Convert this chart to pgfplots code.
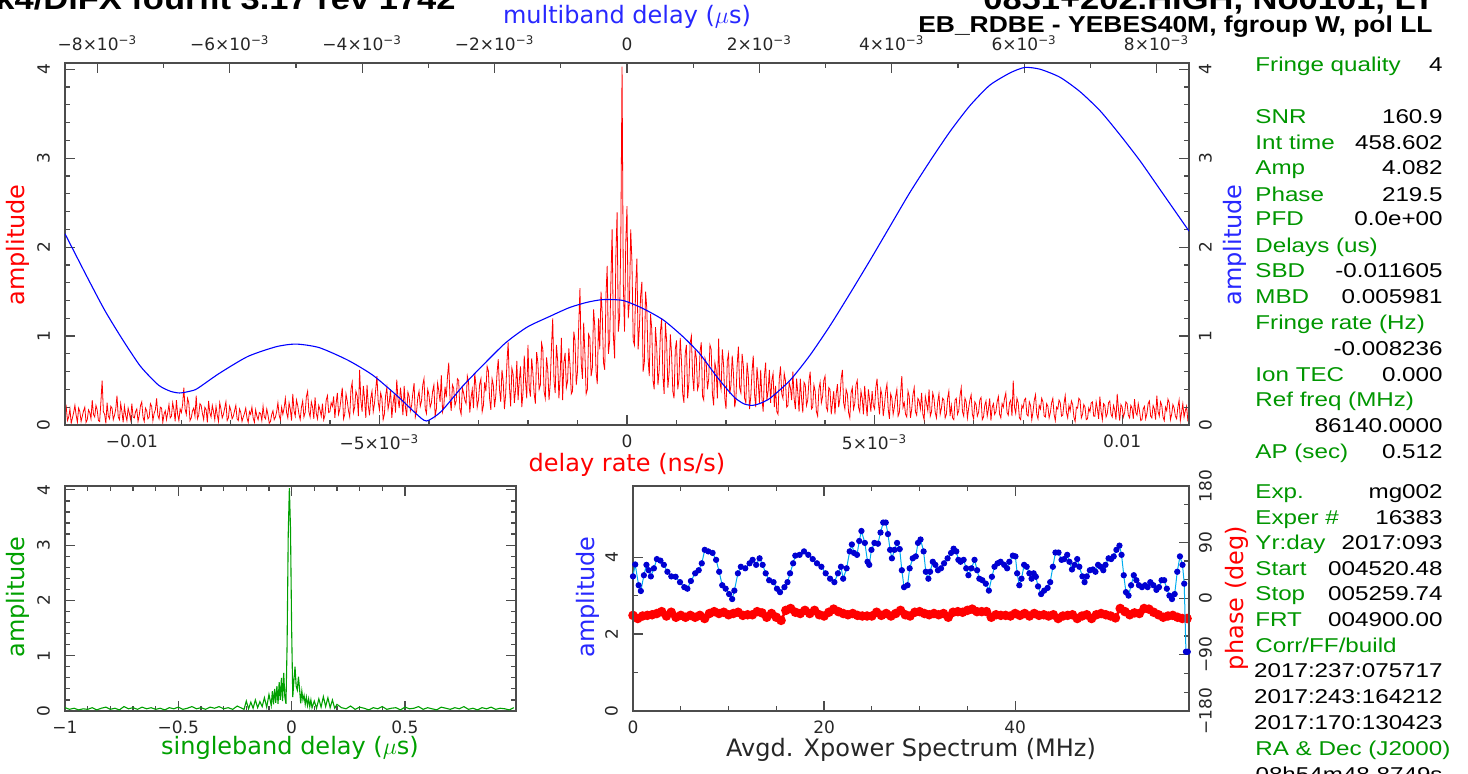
\documentclass[border=0pt]{standalone}
\usepackage{fontspec}
\usepackage{pgfplots}
\pgfplotsset{compat=1.18}
\setmainfont{DejaVu Sans}
\newfontfamily\hf{DejaVu Sans}
\newfontfamily\panelfont{Liberation Sans}[FakeStretch=1.21]
\newfontfamily\titlefont{Liberation Sans}[FakeStretch=1.15]
\definecolor{fgreen}{RGB}{0,150,0}
\definecolor{sgreen}{RGB}{0,160,0}
\definecolor{dblue}{RGB}{0,0,210}
\definecolor{lblue}{RGB}{40,40,255}
\newcommand{\pf}{\panelfont\fontsize{10}{12}\selectfont}
\newcommand{\lf}{\hf\fontsize{12}{14}\selectfont}
\newcommand{\pl}[3]{%
  \node[anchor=base west, text=fgreen, inner sep=0pt, font=\pf] at (627.5pt,#1pt) {#2};%
  \node[anchor=base east, inner sep=0pt, font=\pf] at (721.5pt,#1pt) {#3};}
\pgfplotsset{
  pg/.style={scale only axis, anchor=south west,
    axis line style={black!70, line width=0.6pt},
    every tick/.style={black!70, line width=0.6pt},
    major tick length=5pt, minor tick length=2.5pt, tick align=inside,
    /pgf/number format/assume math mode=true,
    every tick label/.append style={font=\hf\fontsize{8.5}{10}\selectfont, text=black!85},
    clip=true}
}
\begin{document}
\begin{tikzpicture}

% ---------------- top plot: delay rate (red) ----------------
\begin{axis}[pg, at={(32.5pt,174pt)}, width=562pt, height=181pt,
  xmin=-11.35, xmax=11.35, ymin=0, ymax=4.07,
  xtick={-10,-5,0,5,10},
  xticklabels={−0.01, −5×10\textsuperscript{−3}, 0, 5×10\textsuperscript{−3}, 0.01},
  minor x tick num=4, xtick pos=left, xticklabel pos=left,
  ytick={0,1,2,3,4}, yticklabels={0,1,2,3,4}, minor y tick num=4,
  ytick pos=left, yticklabel pos=left,
  xticklabel style={yshift=-1.5pt},
  yticklabel style={xshift=-4pt, rotate=90, anchor=south}]
\addplot[red, line width=0.4pt] coordinates {
(-11.35,0.12)(-11.325,0.20)(-11.30,0.05)(-11.275,0.09)(-11.25,0.18)(-11.225,0.02)(-11.20,0.08)(-11.175,0.14)(-11.15,0.22)(-11.125,0.11)(-11.10,0.03)(-11.075,0.19)(-11.05,0.15)(-11.025,0.04)(-11.00,0.10)(-10.975,0.16)
(-10.95,0.20)(-10.925,0.03)(-10.90,0.06)(-10.875,0.17)(-10.85,0.14)(-10.825,0.07)(-10.80,0.28)(-10.775,0.12)(-10.75,0.09)(-10.725,0.22)(-10.70,0.17)(-10.675,0.05)(-10.65,0.04)(-10.625,0.26)(-10.60,0.50)(-10.575,0.15)(-10.55,0.12)(-10.525,0.02)(-10.50,0.25)(-10.475,0.10)(-10.45,0.07)(-10.425,0.21)(-10.40,0.19)(-10.375,0.06)(-10.35,0.11)(-10.325,0.18)(-10.30,0.33)(-10.275,0.09)(-10.25,0.06)(-10.225,0.24)(-10.20,0.15)(-10.175,0.03)(-10.15,0.21)(-10.125,0.11)(-10.10,0.05)(-10.075,0.19)(-10.05,0.13)(-10.025,0.06)(-10.00,0.24)(-9.975,0.09)
(-9.95,0.08)(-9.925,0.15)(-9.90,0.18)(-9.875,0.04)(-9.85,0.11)(-9.825,0.22)(-9.80,0.26)(-9.775,0.09)(-9.75,0.04)(-9.725,0.19)(-9.70,0.16)(-9.675,0.07)(-9.65,0.09)(-9.625,0.24)(-9.60,0.21)(-9.575,0.05)(-9.55,0.13)(-9.525,0.17)(-9.50,0.30)(-9.475,0.11)(-9.45,0.07)(-9.425,0.20)(-9.40,0.19)(-9.375,0.03)(-9.35,0.12)(-9.325,0.16)(-9.30,0.06)(-9.275,0.14)(-9.25,0.23)(-9.225,0.08)(-9.20,0.10)(-9.175,0.25)(-9.15,0.17)(-9.125,0.04)(-9.10,0.28)(-9.075,0.12)(-9.05,0.05)(-9.025,0.18)(-9.00,0.14)(-8.975,0.23)
(-8.95,0.42)(-8.925,0.18)(-8.90,0.12)(-8.875,0.30)(-8.85,0.25)(-8.825,0.05)(-8.80,0.08)(-8.775,0.16)(-8.75,0.19)(-8.725,0.10)(-8.70,0.33)(-8.675,0.07)(-8.65,0.11)(-8.625,0.24)(-8.60,0.22)(-8.575,0.13)(-8.55,0.06)(-8.525,0.20)(-8.50,0.17)(-8.475,0.03)(-8.45,0.27)(-8.425,0.14)(-8.40,0.09)(-8.375,0.22)(-8.35,0.15)(-8.325,0.06)(-8.30,0.21)(-8.275,0.11)(-8.25,0.04)(-8.225,0.25)(-8.20,0.18)(-8.175,0.08)(-8.15,0.12)(-8.125,0.19)(-8.10,0.26)(-8.075,0.05)(-8.05,0.08)(-8.025,0.21)(-8.00,0.16)(-7.975,0.07)
(-7.95,0.10)(-7.925,0.16)(-7.90,0.22)(-7.875,0.07)(-7.85,0.05)(-7.825,0.18)(-7.80,0.14)(-7.775,0.04)(-7.75,0.09)(-7.725,0.13)(-7.70,0.19)(-7.675,0.08)(-7.65,0.03)(-7.625,0.15)(-7.60,0.12)(-7.575,0.20)(-7.55,0.08)(-7.525,0.03)(-7.50,0.17)(-7.475,0.10)(-7.45,0.06)(-7.425,0.14)(-7.40,0.13)(-7.375,0.05)(-7.35,0.21)(-7.325,0.09)(-7.30,0.07)(-7.275,0.18)(-7.25,0.11)(-7.225,0.02)(-7.20,0.04)(-7.175,0.12)(-7.15,0.16)(-7.125,0.06)(-7.10,0.09)(-7.075,0.15)(-7.05,0.25)(-7.025,0.11)(-7.00,0.06)(-6.975,0.20)
(-6.95,0.12)(-6.925,0.19)(-6.90,0.30)(-6.875,0.14)(-6.85,0.08)(-6.825,0.25)(-6.80,0.18)(-6.775,0.05)(-6.75,0.35)(-6.725,0.16)(-6.70,0.10)(-6.675,0.28)(-6.65,0.22)(-6.625,0.12)(-6.60,0.06)(-6.575,0.20)(-6.55,0.27)(-6.525,0.09)(-6.50,0.14)(-6.475,0.32)(-6.45,0.38)(-6.425,0.15)(-6.40,0.09)(-6.375,0.26)(-6.35,0.20)(-6.325,0.07)(-6.30,0.31)(-6.275,0.13)(-6.25,0.07)(-6.225,0.22)(-6.20,0.17)(-6.175,0.10)(-6.15,0.24)(-6.125,0.06)(-6.10,0.11)(-6.075,0.28)(-6.05,0.33)(-6.025,0.14)(-6.00,0.15)(-5.975,0.25)
(-5.95,0.21)(-5.925,0.32)(-5.90,0.08)(-5.875,0.24)(-5.85,0.36)(-5.825,0.12)(-5.80,0.18)(-5.775,0.30)(-5.75,0.42)(-5.725,0.07)(-5.70,0.12)(-5.675,0.35)(-5.65,0.27)(-5.625,0.16)(-5.60,0.09)(-5.575,0.40)(-5.55,0.48)(-5.525,0.14)(-5.50,0.20)(-5.475,0.38)(-5.45,0.33)(-5.425,0.10)(-5.40,0.62)(-5.375,0.28)(-5.35,0.15)(-5.325,0.44)(-5.30,0.29)(-5.275,0.08)(-5.25,0.45)(-5.225,0.22)(-5.20,0.11)(-5.175,0.30)(-5.15,0.38)(-5.125,0.15)(-5.10,0.24)(-5.075,0.40)(-5.05,0.55)(-5.025,0.26)(-5.00,0.17)(-4.975,0.36)
(-4.95,0.30)(-4.925,0.06)(-4.90,0.12)(-4.875,0.33)(-4.85,0.42)(-4.825,0.18)(-4.80,0.26)(-4.775,0.40)(-4.75,0.08)(-4.725,0.24)(-4.70,0.35)(-4.675,0.14)(-4.65,0.51)(-4.625,0.29)(-4.60,0.19)(-4.575,0.42)(-4.55,0.28)(-4.525,0.11)(-4.50,0.44)(-4.475,0.20)(-4.45,0.10)(-4.425,0.37)(-4.40,0.32)(-4.375,0.16)(-4.35,0.22)(-4.325,0.36)(-4.30,0.47)(-4.275,0.09)(-4.25,0.15)(-4.225,0.31)(-4.20,0.38)(-4.175,0.21)(-4.15,0.27)(-4.125,0.45)(-4.10,0.52)(-4.075,0.18)(-4.05,0.13)(-4.025,0.40)(-4.00,0.34)(-3.975,0.20)
(-3.95,0.25)(-3.925,0.38)(-3.90,0.45)(-3.875,0.10)(-3.85,0.18)(-3.825,0.47)(-3.80,0.38)(-3.775,0.26)(-3.75,0.56)(-3.725,0.15)(-3.70,0.21)(-3.675,0.43)(-3.65,0.31)(-3.625,0.55)(-3.60,0.70)(-3.575,0.30)(-3.55,0.16)(-3.525,0.45)(-3.50,0.41)(-3.475,0.22)(-3.45,0.27)(-3.425,0.52)(-3.40,0.50)(-3.375,0.18)(-3.35,0.12)(-3.325,0.42)(-3.30,0.36)(-3.275,0.28)(-3.25,0.24)(-3.225,0.55)(-3.20,0.48)(-3.175,0.14)(-3.15,0.30)(-3.125,0.40)(-3.10,0.19)(-3.075,0.58)(-3.05,0.44)(-3.025,0.20)(-3.00,0.28)(-2.975,0.46)
(-2.95,0.52)(-2.925,0.15)(-2.90,0.22)(-2.875,0.48)(-2.85,0.38)(-2.825,0.66)(-2.80,0.61)(-2.775,0.30)(-2.75,0.17)(-2.725,0.52)(-2.70,0.45)(-2.675,0.20)(-2.65,0.33)(-2.625,0.58)(-2.60,0.74)(-2.575,0.40)(-2.55,0.26)(-2.525,0.62)(-2.50,0.49)(-2.475,0.18)(-2.45,0.35)(-2.425,0.70)(-2.40,0.93)(-2.375,0.44)(-2.35,0.21)(-2.325,0.64)(-2.30,0.57)(-2.275,0.25)(-2.25,0.40)(-2.225,0.72)(-2.20,0.28)(-2.175,0.50)(-2.15,0.66)(-2.125,0.20)(-2.10,0.36)(-2.075,0.78)(-2.05,0.50)(-2.025,0.30)(-2.00,0.90)(-1.975,0.42)
(-1.95,0.32)(-1.925,0.75)(-1.90,0.58)(-1.875,0.35)(-1.85,0.24)(-1.825,0.82)(-1.80,0.70)(-1.775,0.40)(-1.75,0.45)(-1.725,0.92)(-1.70,0.85)(-1.675,0.38)(-1.65,0.30)(-1.625,0.76)(-1.60,0.62)(-1.575,0.28)(-1.55,0.47)(-1.525,0.88)(-1.50,1.20)(-1.475,0.50)(-1.45,0.36)(-1.425,0.90)(-1.40,0.72)(-1.375,0.30)(-1.35,0.55)(-1.325,0.98)(-1.30,0.28)(-1.275,0.70)(-1.25,0.81)(-1.225,0.42)(-1.20,0.49)(-1.175,0.86)(-1.15,0.66)(-1.125,0.35)(-1.10,0.38)(-1.075,1.05)(-1.05,0.95)(-1.025,0.45)(-1.00,0.60)(-0.975,1.12)
(-0.95,1.54)(-0.925,0.70)(-0.90,0.52)(-0.875,1.15)(-0.85,0.80)(-0.825,0.35)(-0.80,0.40)(-0.775,1.02)(-0.75,0.98)(-0.725,0.55)(-0.70,0.64)(-0.675,1.30)(-0.65,1.10)(-0.625,0.60)(-0.60,0.46)(-0.575,1.20)
(-0.55,0.85)(-0.525,1.50)(-0.50,1.25)(-0.475,0.70)(-0.45,0.62)(-0.425,1.45)(-0.40,1.79)(-0.375,0.80)(-0.35,0.95)(-0.325,1.62)(-0.30,2.20)(-0.275,1.00)(-0.25,0.75)(-0.225,1.90)(-0.20,2.39)(-0.175,1.05)(-0.15,1.20)(-0.125,2.10)(-0.10,4.03)(-0.075,1.60)(-0.05,1.05)(-0.025,2.05)(0.00,2.46)(0.025,1.20)(0.05,1.40)(0.075,2.20)(0.10,1.83)(0.125,0.95)(0.15,0.90)(0.175,1.55)(0.20,1.87)(0.225,0.85)(0.25,1.10)(0.275,1.45)(0.30,1.61)(0.325,0.60)(0.35,0.70)(0.375,1.50)(0.40,1.31)(0.425,0.75)
(0.45,0.55)(0.475,1.25)(0.50,1.08)(0.525,0.50)(0.55,0.40)(0.575,1.10)(0.60,0.88)(0.625,0.45)(0.65,0.62)(0.675,1.05)(0.70,1.20)(0.725,0.55)(0.75,0.35)(0.775,1.15)(0.80,0.95)(0.825,0.42)(0.85,0.58)(0.875,1.02)(0.90,0.80)(0.925,0.38)(0.95,0.30)(0.975,0.85)(1.00,0.95)(1.025,0.40)(1.05,0.52)(1.075,0.98)(1.10,0.72)(1.125,0.35)(1.15,0.25)(1.175,0.80)(1.20,0.90)(1.225,0.30)(1.25,0.48)(1.275,0.92)(1.30,1.00)(1.325,0.55)(1.35,0.38)(1.375,0.85)(1.40,0.76)(1.425,0.40)
(1.45,0.45)(1.475,0.82)(1.50,0.93)(1.525,0.32)(1.55,0.28)(1.575,0.75)(1.60,0.70)(1.625,0.40)(1.65,0.52)(1.675,0.90)(1.70,0.85)(1.725,0.35)(1.75,0.22)(1.775,0.70)(1.80,0.62)(1.825,0.30)(1.85,0.97)(1.875,0.48)(1.90,0.40)(1.925,0.85)(1.95,0.68)(1.975,0.30)(2.00,0.18)(2.025,0.72)(2.05,0.80)(2.075,0.35)(2.10,0.45)(2.125,0.78)(2.15,0.58)(2.175,0.20)(2.20,0.30)(2.225,0.68)(2.25,0.88)(2.275,0.42)(2.30,0.36)(2.325,0.80)(2.35,0.66)(2.375,0.30)(2.40,0.25)(2.425,0.70)
(2.45,0.55)(2.475,0.18)(2.50,0.32)(2.525,0.60)(2.55,0.78)(2.575,0.35)(2.60,0.20)(2.625,0.65)(2.65,0.48)(2.675,0.25)(2.70,0.62)(2.725,0.30)(2.75,0.15)(2.775,0.55)(2.80,0.70)(2.825,0.28)(2.85,0.38)(2.875,0.62)(2.90,0.25)(2.925,0.50)(2.95,0.58)(2.975,0.20)(3.00,0.44)(3.025,0.15)(3.05,0.12)(3.075,0.52)(3.10,0.66)(3.125,0.35)(3.15,0.30)(3.175,0.58)(3.20,0.50)(3.225,0.20)(3.25,0.22)(3.275,0.48)(3.30,0.42)(3.325,0.28)(3.35,0.60)(3.375,0.30)(3.40,0.18)(3.425,0.52)
(3.45,0.36)(3.475,0.15)(3.50,0.52)(3.525,0.30)(3.55,0.14)(3.575,0.48)(3.60,0.45)(3.625,0.22)(3.65,0.28)(3.675,0.50)(3.70,0.60)(3.725,0.18)(3.75,0.20)(3.775,0.45)(3.80,0.38)(3.825,0.15)(3.85,0.10)(3.875,0.40)(3.90,0.48)(3.925,0.25)(3.95,0.32)(3.975,0.50)(4.00,0.55)(4.025,0.20)(4.05,0.16)(4.075,0.42)(4.10,0.40)(4.125,0.12)(4.15,0.25)(4.175,0.38)(4.20,0.12)(4.225,0.35)(4.25,0.46)(4.275,0.20)(4.30,0.30)(4.325,0.52)(4.35,0.62)(4.375,0.25)(4.40,0.18)(4.425,0.40)
(4.45,0.35)(4.475,0.14)(4.50,0.08)(4.525,0.36)(4.55,0.42)(4.575,0.18)(4.60,0.24)(4.625,0.45)(4.65,0.50)(4.675,0.20)(4.70,0.15)(4.725,0.38)(4.75,0.30)(4.775,0.12)(4.80,0.44)(4.825,0.25)(4.85,0.10)(4.875,0.40)(4.90,0.28)(4.925,0.15)(4.95,0.38)(4.975,0.22)(5.00,0.18)(5.025,0.42)(5.05,0.52)(5.075,0.26)(5.10,0.12)(5.125,0.40)(5.15,0.33)(5.175,0.10)(5.20,0.22)(5.225,0.38)(5.25,0.46)(5.275,0.18)(5.30,0.07)(5.325,0.35)(5.35,0.30)(5.375,0.12)(5.40,0.20)(5.425,0.32)
(5.45,0.40)(5.475,0.10)(5.50,0.14)(5.525,0.35)(5.55,0.55)(5.575,0.20)(5.60,0.25)(5.625,0.12)(5.65,0.09)(5.675,0.38)(5.70,0.32)(5.725,0.08)(5.75,0.18)(5.775,0.34)(5.80,0.42)(5.825,0.15)(5.85,0.11)(5.875,0.30)(5.90,0.27)(5.925,0.18)(5.95,0.36)(5.975,0.12)(6.00,0.06)(6.025,0.32)(6.05,0.24)(6.075,0.16)(6.10,0.40)(6.125,0.10)(6.15,0.15)(6.175,0.36)(6.20,0.30)(6.225,0.14)(6.25,0.08)(6.275,0.26)(6.30,0.35)(6.325,0.12)(6.35,0.19)(6.375,0.30)(6.40,0.28)(6.425,0.08)
(6.45,0.12)(6.475,0.30)(6.50,0.38)(6.525,0.10)(6.55,0.22)(6.575,0.08)(6.60,0.06)(6.625,0.28)(6.65,0.30)(6.675,0.12)(6.70,0.16)(6.725,0.33)(6.75,0.42)(6.775,0.15)(6.80,0.10)(6.825,0.30)(6.85,0.26)(6.875,0.08)(6.90,0.19)(6.925,0.28)(6.95,0.34)(6.975,0.12)(7.00,0.07)(7.025,0.26)(7.05,0.23)(7.075,0.10)(7.10,0.14)(7.125,0.28)(7.15,0.31)(7.175,0.06)(7.20,0.09)(7.225,0.22)(7.25,0.27)(7.275,0.10)(7.30,0.18)(7.325,0.30)(7.35,0.05)(7.375,0.20)(7.40,0.24)(7.425,0.12)
(7.45,0.15)(7.475,0.26)(7.50,0.32)(7.525,0.12)(7.55,0.08)(7.575,0.24)(7.60,0.20)(7.625,0.30)(7.65,0.36)(7.675,0.14)(7.70,0.11)(7.725,0.25)(7.75,0.28)(7.775,0.10)(7.80,0.50)(7.825,0.20)(7.85,0.13)(7.875,0.30)(7.90,0.25)(7.925,0.08)(7.95,0.06)(7.975,0.22)(8.00,0.19)(8.025,0.28)(8.05,0.30)(8.075,0.12)(8.10,0.10)(8.125,0.26)(8.15,0.22)(8.175,0.06)(8.20,0.15)(8.225,0.28)(8.25,0.34)(8.275,0.12)(8.30,0.07)(8.325,0.22)(8.35,0.18)(8.375,0.30)(8.40,0.26)(8.425,0.10)
(8.45,0.09)(8.475,0.24)(8.50,0.21)(8.525,0.08)(8.55,0.14)(8.575,0.25)(8.60,0.30)(8.625,0.12)(8.65,0.05)(8.675,0.20)(8.70,0.18)(8.725,0.28)(8.75,0.25)(8.775,0.10)(8.80,0.11)(8.825,0.24)(8.85,0.33)(8.875,0.14)(8.90,0.08)(8.925,0.22)(8.95,0.16)(8.975,0.27)(9.00,0.23)(9.025,0.09)(9.05,0.04)(9.075,0.20)(9.10,0.19)(9.125,0.30)(9.15,0.28)(9.175,0.08)(9.20,0.12)(9.225,0.23)(9.25,0.20)(9.275,0.06)(9.30,0.07)(9.325,0.19)(9.35,0.15)(9.375,0.25)(9.40,0.26)(9.425,0.10)
(9.45,0.10)(9.475,0.26)(9.50,0.18)(9.525,0.07)(9.55,0.32)(9.575,0.15)(9.60,0.06)(9.625,0.24)(9.65,0.22)(9.675,0.09)(9.70,0.13)(9.725,0.25)(9.75,0.27)(9.775,0.12)(9.80,0.09)(9.825,0.22)(9.85,0.17)(9.875,0.06)(9.90,0.35)(9.925,0.18)(9.95,0.05)(9.975,0.23)(10.00,0.20)(10.025,0.09)(10.05,0.14)(10.075,0.26)(10.10,0.24)(10.125,0.11)(10.15,0.08)(10.175,0.22)(10.20,0.19)(10.225,0.07)(10.25,0.29)(10.275,0.14)(10.30,0.11)(10.325,0.24)(10.35,0.16)(10.375,0.05)(10.40,0.06)(10.425,0.18)
(10.45,0.21)(10.475,0.07)(10.50,0.13)(10.525,0.24)(10.55,0.27)(10.575,0.10)(10.60,0.08)(10.625,0.22)(10.65,0.18)(10.675,0.06)(10.70,0.33)(10.725,0.15)(10.75,0.10)(10.775,0.26)(10.80,0.22)(10.825,0.09)(10.85,0.05)(10.875,0.20)(10.90,0.16)(10.925,0.29)(10.95,0.25)(10.975,0.06)(11.00,0.12)(11.025,0.23)(11.05,0.19)(11.075,0.10)(11.10,0.07)(11.125,0.20)(11.15,0.28)(11.175,0.05)(11.20,0.14)(11.225,0.24)(11.25,0.09)(11.275,0.16)(11.30,0.21)(11.325,0.06)(11.35,0.11)
};
\end{axis}

% ---------------- top plot: multiband delay (blue) ----------------
\begin{axis}[pg, at={(32.5pt,174pt)}, width=562pt, height=181pt,
  xmin=-8.49, xmax=8.49, ymin=0, ymax=4.07,
  xtick={-8,-6,-4,-2,0,2,4,6,8},
  xticklabels={−8×10\textsuperscript{−3}, −6×10\textsuperscript{−3}, −4×10\textsuperscript{−3}, −2×10\textsuperscript{−3}, 0, 2×10\textsuperscript{−3}, 4×10\textsuperscript{−3}, 6×10\textsuperscript{−3}, 8×10\textsuperscript{−3}},
  minor x tick num=1, xtick pos=right, xticklabel pos=right,
  ytick={0,1,2,3,4}, yticklabels={0,1,2,3,4}, minor y tick num=4,
  ytick pos=right, yticklabel pos=right,
  xticklabel style={yshift=2.8pt},
  yticklabel style={xshift=1.5pt, rotate=90, anchor=north}]
\addplot[blue, line width=0.55pt, smooth, tension=0.4] coordinates {
(-8.49,2.15)(-8.16,1.67)(-7.89,1.29)(-7.62,0.96)(-7.35,0.66)(-7.08,0.45)(-6.90,0.38)(-6.76,0.36)(-6.60,0.38)(-6.49,0.41)(-6.16,0.58)(-5.73,0.77)(-5.30,0.88)(-5.00,0.91)(-4.65,0.87)(-4.22,0.73)(-3.84,0.56)(-3.46,0.32)(-3.19,0.13)(-3.03,0.045)(-2.81,0.15)(-2.49,0.43)(-2.22,0.64)(-1.84,0.92)(-1.51,1.10)(-1.17,1.22)(-0.87,1.32)(-0.60,1.38)(-0.36,1.41)(-0.06,1.40)(0.24,1.31)(0.55,1.18)(0.85,0.99)(1.10,0.80)(1.36,0.54)(1.61,0.32)(1.76,0.24)(1.89,0.22)(2.00,0.24)(2.16,0.30)(2.46,0.50)(2.76,0.78)(3.07,1.12)(3.37,1.48)(3.67,1.85)(3.97,2.23)(4.27,2.61)(4.58,2.97)(4.88,3.30)(5.18,3.59)(5.48,3.82)(5.79,3.96)(6.01,4.02)(6.24,4.00)(6.54,3.91)(6.84,3.75)(7.15,3.53)(7.45,3.26)(7.75,2.97)(8.05,2.65)(8.49,2.18)
};
\end{axis}

% ---------------- bottom left: singleband delay ----------------
\begin{axis}[pg, at={(32.5pt,31pt)}, width=225.5pt, height=112.5pt,
  xmin=-1, xmax=0.99, ymin=0, ymax=4.07,
  xtick={-1,-0.5,0,0.5}, xticklabels={−1,−0.5,0,0.5}, minor x tick num=4,
  ytick={0,1,2,3,4}, yticklabels={0,1,2,3,4}, minor y tick num=4,
  xticklabel style={yshift=-1.5pt},
  yticklabel style={xshift=-4pt, rotate=90, anchor=south}]
\addplot[sgreen, line width=0.55pt] coordinates {
(-1.00,0.06)(-0.98,0.03)(-0.96,0.05)(-0.94,0.02)(-0.92,0.04)(-0.90,0.03)(-0.88,0.06)(-0.86,0.02)(-0.84,0.05)(-0.82,0.07)(-0.80,0.03)(-0.78,0.05)(-0.76,0.02)(-0.74,0.08)(-0.72,0.04)(-0.70,0.06)(-0.68,0.03)(-0.66,0.07)(-0.64,0.04)(-0.62,0.06)(-0.60,0.03)(-0.58,0.05)(-0.56,0.02)(-0.54,0.06)(-0.52,0.04)(-0.50,0.07)(-0.48,0.03)(-0.46,0.05)(-0.44,0.08)(-0.42,0.04)(-0.40,0.06)(-0.38,0.03)(-0.36,0.07)(-0.34,0.05)(-0.32,0.08)(-0.30,0.04)(-0.28,0.06)(-0.26,0.03)(-0.24,0.09)(-0.22,0.05)
(-0.21,0.03)(-0.20,0.18)(-0.19,0.04)(-0.18,0.16)(-0.17,0.05)(-0.16,0.20)(-0.15,0.06)(-0.14,0.17)(-0.13,0.08)(-0.12,0.24)(-0.11,0.07)(-0.10,0.30)(-0.09,0.10)
(-0.085,0.36)(-0.08,0.12)(-0.075,0.40)(-0.07,0.15)(-0.065,0.45)(-0.06,0.13)(-0.055,0.52)(-0.05,0.20)(-0.045,0.60)(-0.04,0.18)(-0.035,0.69)(-0.03,0.25)(-0.025,0.13)
(-0.02,1.2)(-0.015,3.2)(-0.01,4.03)(-0.005,3.3)(0.0,1.5)(0.005,0.25)
(0.01,0.55)(0.015,0.80)(0.02,0.45)(0.025,0.38)(0.03,0.62)(0.035,0.40)(0.04,0.14)(0.045,0.36)(0.05,0.20)(0.055,0.28)(0.06,0.12)(0.065,0.25)(0.07,0.10)(0.075,0.22)(0.08,0.08)(0.085,0.20)(0.09,0.06)
(0.10,0.18)(0.11,0.05)(0.12,0.22)(0.13,0.07)(0.14,0.26)(0.15,0.08)(0.16,0.24)(0.17,0.06)(0.18,0.20)(0.19,0.05)(0.20,0.12)
(0.22,0.06)(0.24,0.04)(0.26,0.09)(0.28,0.03)(0.30,0.07)(0.32,0.05)(0.34,0.02)(0.36,0.06)(0.38,0.04)(0.40,0.08)(0.42,0.03)(0.44,0.05)(0.46,0.06)(0.48,0.02)(0.50,0.07)(0.52,0.04)(0.54,0.05)(0.56,0.08)(0.58,0.03)(0.60,0.06)(0.62,0.04)(0.64,0.02)(0.66,0.07)(0.68,0.05)(0.70,0.03)(0.72,0.06)(0.74,0.04)(0.76,0.08)(0.78,0.03)(0.80,0.05)(0.82,0.02)(0.84,0.06)(0.86,0.04)(0.88,0.07)(0.90,0.03)(0.92,0.05)(0.94,0.04)(0.96,0.02)(0.98,0.06)
};
\end{axis}

% ---------------- bottom right: phase (red) ----------------
\begin{axis}[pg, at={(316.5pt,31pt)}, width=278pt, height=112.5pt,
  xmin=0, xmax=58.2, ymin=-180, ymax=180,
  xtick=\empty,
  ytick={-180,-90,0,90,180}, yticklabels={−180,−90,0,90,180}, minor y tick num=2,
  ytick pos=right, yticklabel pos=right,
  yticklabel style={xshift=1.5pt, rotate=90, anchor=north}]
\addplot[red, line width=1.3pt, mark=*, mark size=1.7pt] coordinates {
(0,-27)(0.5,-32)(1,-28)(1.5,-27)(2,-26)(2.5,-24)(3,-21)(3.5,-28)(4,-22)(4.5,-30)(5,-27)(5.5,-30)(6,-27)(6.5,-30)(7,-27)(7.5,-32)(8,-24)(8.5,-21)(9,-24)(9.5,-22)(10,-26)(10.5,-24)(11,-22)(11.5,-27)(12,-26)(12.5,-26)(13,-21)(13.5,-23)(14,-30)(14.5,-24)(15,-30)(15.5,-35)(16,-19)(16.5,-16)(17,-22)(17.5,-24)(18,-19)(18.5,-24)(19,-19)(19.5,-26)(20,-28)(20.5,-22)(21,-17)(21.5,-21)(22,-24)(22.5,-26)(23,-24)(23.5,-27)(24,-28)(24.5,-28)(25,-28)(25.5,-22)(26,-27)(26.5,-24)(27,-28)(27.5,-24)(28,-19)(28.5,-26)(29,-28)(29.5,-22)(30,-21)(30.5,-24)(31,-26)(31.5,-24)(32,-26)(32.5,-24)(33,-30)(33.5,-22)(34,-21)(34.5,-22)(35,-19)(35.5,-17)(36,-21)(36.5,-21)(37,-21)(37.5,-30)(38,-26)(38.5,-27)(39,-27)(39.5,-28)(40,-24)(40.5,-27)(41,-24)(41.5,-28)(42,-24)(42.5,-27)(43,-26)(43.5,-28)(44,-26)(44.5,-32)(45,-28)(45.5,-27)(46,-26)(46.5,-32)(47,-28)(47.5,-26)(48,-32)(48.5,-26)(49,-24)(49.5,-26)(50,-28)(50.5,-31)(51,-16)(51.5,-21)(52,-26)(52.5,-23)(53,-24)(53.5,-16)(54,-17)(54.5,-22)(55,-26)(55.5,-30)(56,-28)(56.5,-27)(57,-30)(57.5,-32)(58,-32)
};
\end{axis}

% ---------------- bottom right: amplitude (blue) ----------------
\begin{axis}[pg, at={(316.5pt,31pt)}, width=278pt, height=112.5pt,
  xmin=0, xmax=58.2, ymin=0, ymax=5.85,
  xtick={0,20,40}, xticklabels={0,20,40}, minor x tick num=3,
  ytick={0,2,4}, yticklabels={0,2,4}, minor y tick num=1,
  ytick pos=left, yticklabel pos=left,
  xticklabel style={yshift=-1.5pt},
  yticklabel style={xshift=-4pt, rotate=90, anchor=south}]
\addplot[cyan, line width=0.5pt, mark=*, mark size=1.3pt, mark options={draw=dblue, fill=dblue}] coordinates {
(0,3.50)(0.23,3.81)(0.59,3.27)(0.82,3.12)(1.14,3.53)(1.41,3.80)(1.64,3.66)(1.87,3.50)(2.19,3.71)(2.50,3.95)(2.87,3.91)(3.23,3.80)(3.60,3.62)(4.01,3.50)(4.46,3.49)(4.92,3.35)(5.37,3.22)(5.69,3.18)(6.06,3.38)(6.51,3.58)(6.88,3.66)(7.20,3.84)(7.51,4.19)(7.88,4.15)(8.33,4.11)(8.70,3.93)(9.02,3.62)(9.34,3.27)(9.70,3.18)(10.06,3.04)(10.38,2.91)(10.61,3.13)(10.98,3.58)(11.29,3.75)(11.75,3.71)(12.20,3.84)(12.52,3.93)(12.89,3.80)(13.25,3.97)(13.57,3.80)(13.89,3.58)(14.25,3.40)(14.71,3.35)(15.07,3.18)(15.39,3.09)(15.85,3.22)(16.17,3.35)(16.44,3.58)(16.76,3.84)(16.99,4.04)(17.44,4.06)(17.90,4.15)(18.35,4.06)(18.81,3.95)(19.26,3.84)(19.72,3.75)(20.17,3.58)(20.63,3.44)(21.08,3.35)(21.45,3.58)(21.77,3.75)(22.00,3.44)(22.36,3.71)(22.68,4.15)(22.91,4.33)(23.13,4.11)(23.45,4.06)(23.68,4.42)(23.91,4.68)(24.27,4.37)(24.55,3.88)(24.73,3.80)(24.96,4.19)(25.27,4.37)(25.64,4.35)(25.91,4.64)(26.19,4.90)(26.46,4.90)(26.69,4.60)(26.91,4.19)(27.10,3.97)(27.37,4.19)(27.64,4.37)(27.92,4.21)(28.14,3.66)(28.37,3.22)(28.74,3.27)(28.96,3.71)(29.28,3.97)(29.60,4.02)(29.83,4.37)(30.10,4.46)(30.42,4.15)(30.65,3.62)(30.92,3.44)(31.10,3.62)(31.38,3.88)(31.65,3.80)(31.92,3.66)(32.24,3.71)(32.56,3.84)(32.93,3.97)(33.29,4.11)(33.56,4.22)(33.84,4.15)(34.06,3.93)(34.29,3.88)(34.61,3.93)(34.88,3.71)(35.11,3.53)(35.43,3.71)(35.75,3.93)(36.02,3.66)(36.25,3.44)(36.57,3.40)(36.93,3.31)(37.25,3.13)(37.57,3.49)(37.84,3.75)(38.16,3.84)(38.48,3.88)(38.85,3.80)(39.16,3.71)(39.39,3.88)(39.76,4.04)(40.03,4.02)(40.21,3.58)(40.44,3.27)(40.67,3.44)(40.94,3.80)(41.21,3.75)(41.49,3.58)(41.72,3.44)(41.94,3.58)(42.17,3.49)(42.40,3.24)(42.72,3.04)(43.04,3.13)(43.40,3.20)(43.67,3.35)(43.95,3.75)(44.22,4.12)(44.54,4.12)(44.86,3.93)(45.13,3.95)(45.45,4.06)(45.68,3.88)(45.95,3.68)(46.22,3.80)(46.50,3.95)(46.72,3.75)(47.04,3.50)(47.27,3.35)(47.50,3.50)(47.82,3.66)(48.14,3.68)(48.41,3.62)(48.68,3.80)(48.96,3.75)(49.23,3.66)(49.46,3.80)(49.78,3.97)(50.05,3.95)(50.32,4.02)(50.60,4.19)(50.92,4.30)(51.14,4.06)(51.37,3.53)(51.60,3.09)(51.87,3.00)(52.14,3.27)(52.42,3.53)(52.69,3.40)(52.96,3.27)(53.28,3.22)(53.60,3.27)(53.87,3.22)(54.15,3.35)(54.47,3.27)(54.79,3.15)(55.06,3.22)(55.33,3.40)(55.60,3.40)(55.88,3.18)(56.15,3.00)(56.42,2.91)(56.70,3.04)(56.97,3.62)(57.25,4.02)(57.52,3.80)(57.70,3.31)(57.88,1.54)(58.07,1.54)
};
\end{axis}

% ---------------- axis titles ----------------
\node[font=\lf, text=lblue] at (313.5pt,378pt) {multiband delay ($\mu$s)};
\node[font=\lf, text=red] at (313.5pt,154pt) {delay rate (ns/s)};
\node[font=\lf, text=red, rotate=90] at (9pt,264pt) {amplitude};
\node[font=\lf, text=lblue, rotate=90] at (617.5pt,264pt) {amplitude};
\node[font=\lf, text=sgreen, rotate=90] at (9pt,88pt) {amplitude};
\node[font=\lf, text=sgreen] at (145pt,12.5pt) {singleband delay ($\mu$s)};
\node[font=\lf, text=lblue, rotate=90] at (294pt,88pt) {amplitude};
\node[font=\lf, text=red, rotate=90] at (618.5pt,87.5pt) {phase (deg)};
\node[font=\lf, text=black!85] at (455.5pt,11.5pt) {Avgd. Xpower Spectrum (MHz)};

% ---------------- titles ----------------
\node[anchor=base east, inner sep=0pt, font=\titlefont\bfseries\fontsize{15}{17}\selectfont] at (228pt,381.5pt) {Mk4/DiFX fourfit 3.17 rev 1742};
\node[anchor=base east, inner sep=0pt, font=\titlefont\bfseries\fontsize{15}{17}\selectfont] at (718pt,381.5pt) {0851+202.HIGH, No0101, LY};
\node[anchor=base east, inner sep=0pt, font=\titlefont\bfseries\fontsize{11.5}{13}\selectfont] at (716.5pt,370pt) {EB\_RDBE - YEBES40M, fgroup W, pol LL};

% ---------------- right panel ----------------
\pl{350.5}{Fringe quality}{4}
\pl{324.5}{SNR}{160.9}
\pl{312}{Int time}{458.602}
\pl{299}{Amp}{4.082}
\pl{286}{Phase}{219.5}
\pl{273.5}{PFD}{0.0e+00}
\pl{260.5}{Delays (us)}{}
\pl{248}{SBD}{-0.011605}
\pl{235}{MBD}{0.005981}
\pl{222}{Fringe rate (Hz)}{}
\pl{209}{}{-0.008236}
\pl{196}{Ion TEC}{0.000}
\pl{183.5}{Ref freq (MHz)}{}
\pl{170.5}{}{86140.0000}
\pl{157.5}{AP (sec)}{0.512}
\pl{137.5}{Exp.}{mg002}
\pl{124.5}{Exper \#}{16383}
\pl{112}{Yr:day}{2017:093}
\pl{99}{Start}{004520.48}
\pl{86.5}{Stop}{005259.74}
\pl{73.5}{FRT}{004900.00}
\pl{60.5}{Corr/FF/build}{}
\pl{48}{}{2017:237:075717}
\pl{35}{}{2017:243:164212}
\pl{22}{}{2017:170:130423}
\pl{9}{RA \& Dec (J2000)}{}
\pl{-4}{}{08h54m48.8749s}

\pgfresetboundingbox
\useasboundingbox (0pt,0pt) rectangle (734pt,386.5pt);
\end{tikzpicture}
\end{document}
